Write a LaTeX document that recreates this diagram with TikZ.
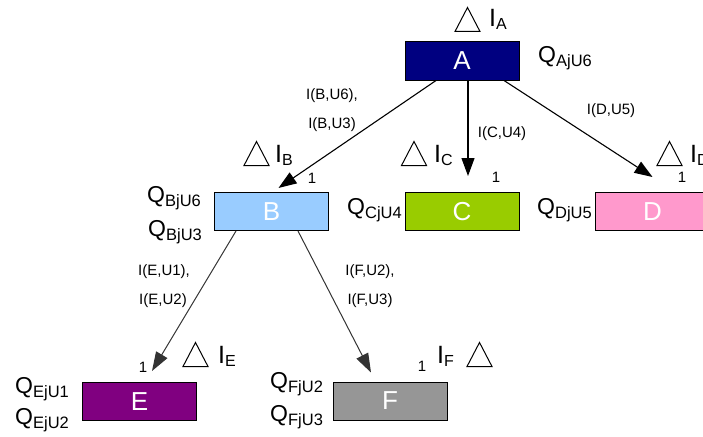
\documentclass[tikz,border=0pt]{standalone}
\usepackage{fontspec}
\setmainfont{Liberation Sans}
\usetikzlibrary{arrows.meta}
\definecolor{cA}{RGB}{0,0,128}
\definecolor{cB}{RGB}{153,204,255}
\definecolor{cC}{RGB}{153,204,0}
\definecolor{cD}{RGB}{255,153,204}
\definecolor{cE}{RGB}{128,0,128}
\definecolor{cF}{RGB}{150,150,150}
\definecolor{dgray}{RGB}{51,51,51}
\newcommand\Ilab[1]{{\fontsize{25}{25}\selectfont I}\raisebox{-3pt}{\fontsize{16}{16}\selectfont #1}}
\newcommand\Qlab[1]{{\fontsize{23}{23}\selectfont Q}\raisebox{-4pt}{\fontsize{16.5}{16.5}\selectfont #1}}
\tikzset{
  box/.style={draw=black, line width=1pt, minimum width=114pt, minimum height=38pt, inner sep=0pt,
    text=white, font=\fontsize{26}{26}\selectfont},
  lab/.style={inner sep=0pt, anchor=base west},
  elab/.style={inner sep=0pt, font=\fontsize{15}{15}\selectfont},
  one/.style={inner sep=0pt, font=\fontsize{15}{15}\selectfont},
  tri/.style={draw=black, line width=1pt, line join=miter},
  arr/.style={draw=black, line width=1.1pt, -{Triangle[length=18pt,width=13pt]}},
  arrg/.style={draw=dgray, line width=1pt, -{Triangle[length=19pt,width=13pt]}},
}
\newcommand\tri[2]{\draw[tri,shift={(#1,#2)}] (-12.5,12) -- (12.5,12) -- (0,-12) -- cycle;}
\begin{document}
\begin{tikzpicture}[x=1pt,y=-1pt]
\useasboundingbox (0,0) rectangle (703,436);
\clip (0,0) rectangle (703,436);
% boxes
\node[box, fill=cA] (A) at (462,61) {A};
\node[box, fill=cB] (B) at (271.5,211.5) {B};
\node[box, fill=cC] (C) at (462,211.5) {C};
\node[box, fill=cD] (D) at (652.5,211.5) {D};
\node[box, fill=cE] (E) at (139.5,401.5) {E};
\node[box, fill=cF] (F) at (390,401) {F};
% arrows
\draw[arr] ([xshift=-26pt]A.south) -- ([xshift=7pt,yshift=4pt]B.north);
\draw[arr] ([xshift=6pt]A.south) -- ([xshift=6pt,yshift=16pt]C.north);
\draw[arr] ([xshift=42pt]A.south) -- ([xshift=0pt,yshift=15pt]D.north);
\draw[arrg] ([xshift=-35.5pt]B.south) -- ([xshift=12.5pt,yshift=11pt]E.north);
\draw[arrg] ([xshift=26.5pt]B.south) -- ([xshift=-19pt,yshift=9pt]F.north);
% edge labels
\node[elab] (lb1) at (332,96) {I(B,U6),};
\node[elab] (lb2) at (332,125) {I(B,U3)};
\node[elab] (lc) at (502,134) {I(C,U4)};
\node[elab] (ld) at (611,111) {I(D,U5)};
\node[elab] (le1) at (164,272) {I(E,U1),};
\node[elab] (le2) at (163,301) {I(E,U2)};
\node[elab] (lf1) at (370,272) {I(F,U2),};
\node[elab] (lf2) at (370,301) {I(F,U3)};
% ones
\node[one] (oB) at (312,178) {1};
\node[one] (oC) at (496,177) {1};
\node[one] (oD) at (682,177) {1};
\node[one] (oE) at (143,367) {1};
\node[one] (oF) at (422,366) {1};
% triangles
\tri{467.5}{19.5}
\tri{256.5}{153.5}
\tri{414}{153.5}
\tri{669.5}{153.5}
\tri{195.5}{354.5}
\tri{479.5}{354.5}
% I labels
\node[lab] (IA) at (489,27) {\Ilab{A}};
\node[lab] (IB) at (275,162) {\Ilab{B}};
\node[lab] (IC) at (434,162) {\Ilab{C}};
\node[lab] (ID) at (690,162) {\Ilab{D}};
\node[lab] (IE) at (218,363) {\Ilab{E}};
\node[lab] (IF) at (437,363) {\Ilab{F}};
% Q labels
\node[lab] (QA) at (538,63) {\Qlab{AjU6}};
\node[lab] (QB1) at (147,202) {\Qlab{BjU6}};
\node[lab] (QB2) at (148,236) {\Qlab{BjU3}};
\node[lab] (QC) at (347,214) {\Qlab{CjU4}};
\node[lab] (QD) at (537,214) {\Qlab{DjU5}};
\node[lab] (QE1) at (15,393) {\Qlab{EjU1}};
\node[lab] (QE2) at (15,424) {\Qlab{EjU2}};
\node[lab] (QF1) at (270,388) {\Qlab{FjU2}};
\node[lab] (QF2) at (270,421) {\Qlab{FjU3}};
\end{tikzpicture}
\end{document}
